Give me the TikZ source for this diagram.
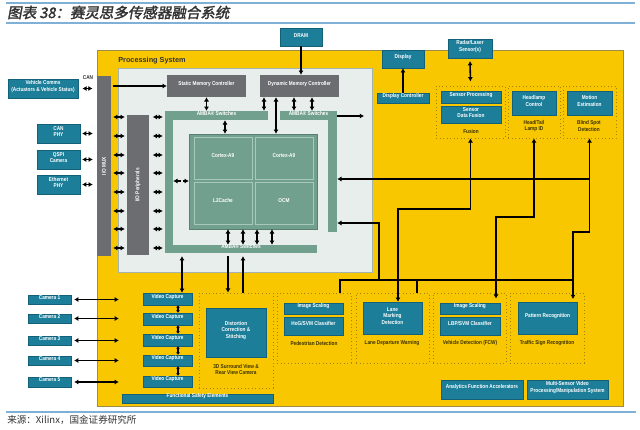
\documentclass[tikz,border=0pt]{standalone}
\usepackage{fontspec}
\setmainfont{Liberation Sans}
\newfontfamily\dfont{Liberation Sans}[FakeStretch=0.84]
\newfontfamily\cjkfont{Noto Sans CJK SC}[FakeSlant=0.18,FakeBold=2]
\newfontfamily\srcfont{Noto Sans CJK SC}
\usetikzlibrary{arrows.meta,fit}

\definecolor{yell}{HTML}{F8C700}
\definecolor{yelld}{HTML}{A08C45}
\definecolor{teal0}{HTML}{1C7E99}
\definecolor{teal1}{HTML}{136178}
\definecolor{grayblk}{HTML}{6C6D70}
\definecolor{psbg}{HTML}{E8EEEC}
\definecolor{psln}{HTML}{A5B3AE}
\definecolor{amba}{HTML}{72A08F}
\definecolor{cellln}{HTML}{A9C8BC}
\definecolor{frmc}{HTML}{A3850C}
\definecolor{notec}{HTML}{3B3200}
\definecolor{tlin}{HTML}{7FB0D6}
\definecolor{titc}{HTML}{333333}

\tikzset{
  lbl/.style={font=\dfont\bfseries\fontsize{4}{4.7}\selectfont, align=center},
  tbox/.style={lbl, fill=teal0, draw=teal1, line width=0.3pt, text=white, inner sep=0pt},
  gbox/.style={lbl, fill=grayblk, text=white, inner sep=0pt},
  abar/.style={lbl, fill=amba, text=white, inner sep=0pt},
  cell/.style={lbl, fill=amba, draw=cellln, line width=0.6pt, text=white, inner sep=0pt},
  frm/.style={draw=frmc, dotted, line width=0.5pt, inner sep=0pt},
  note/.style={lbl, text=notec},
  dbl/.style={arrows={Latex[length=3pt,width=3.6pt]-Latex[length=3pt,width=3.6pt]}, line width=1.1pt},
  sdbl/.style={arrows={Latex[length=1.8pt,width=3pt]-Latex[length=1.8pt,width=3pt]}, line width=1.1pt},
  sgl/.style={-{Latex[length=3pt,width=3.6pt]}, line width=1.1pt},
  wire/.style={line width=1.1pt},
  tline/.style={draw=tlin, line width=0.8pt}
}

\begin{document}
\begin{tikzpicture}[x=0.025cm, y=-0.025cm]
  \useasboundingbox (0,0) rectangle (640,429);
  \fill[white] (0,0) rectangle (640,429);

  % title and source
  \draw[tline] (6,3) -- (635,3);
  \draw[tline] (6,23) -- (635,23);
  \draw[tline] (6,412) -- (636,412);
  \node[anchor=west, inner sep=0pt, text=titc, font=\cjkfont\fontsize{10.3}{12}\selectfont] (title) at (7,12.5) {图表 38：赛灵思多传感器融合系统};
  \node[anchor=west, inner sep=0pt, text=titc, font=\srcfont\fontsize{6.8}{8}\selectfont] (src) at (7,420) {来源：Xilinx，国金证券研究所};

  % programmable logic and processing system
  \node[fill=yell, draw=yelld, line width=0.5pt, inner sep=0pt, fit={(97,50) (623,406)}] (pl) {};
  \node[fill=psbg, draw=psln, line width=0.5pt, inner sep=0pt, fit={(118,68) (372,272)}] (ps) {};
  \node[anchor=west, inner sep=0pt, text=titc, font=\bfseries\fontsize{5.2}{6}\selectfont] (pslbl) at (118,60.5) {Processing System};

  % outside blocks
  \node[tbox, fit={(280,28) (322,46)}] (dram) {DRAM};
  \node[tbox, fit={(8,79) (78,98)}] (vcomm) {Vehicle Comms\\(Actuators \& Vehicle Status)};
  \node[lbl, text=titc, inner sep=0pt] (canlbl) at (88,78) {CAN};
  \node[tbox, fit={(37,124) (80,143)}] (canphy) {CAN\\PHY};
  \node[tbox, fit={(37,150) (80,169)}] (qspi) {QSPI\\Camera};
  \node[tbox, fit={(37,175) (80,194)}] (eth) {Ethernet\\PHY};
  \node[tbox, fit={(382,50) (424,68)}] (disp) {Display};
  \node[tbox, fit={(448,39) (492,58)}] (radar) {Radar/Laser\\Sensor(s)};

  % I/O and memory
  \node[gbox, fit={(97,76) (111,256)}, label={[lbl, text=white, rotate=90]center:I/O MUX}] (iomux) {};
  \node[gbox, fit={(127,115) (149,255)}, label={[lbl, text=white, rotate=90]center:I/O Peripherals}] (iop) {};
  \node[gbox, fit={(167,75) (246,97)}] (smc) {Static Memory Controller};
  \node[gbox, fit={(260,75) (339,97)}] (dmc) {Dynamic Memory Controller};

  % AMBA switches
  \node[abar, fit={(165,111) (173,253)}] (ambaLl) {};
  \node[abar, fit={(165,111) (268,120)}] (ambaLt) {AMBA® Switches};
  \node[abar, fit={(165,245) (317,253)}] (ambaLb) {AMBA® Switches};
  \node[abar, fit={(328,111) (337,232)}] (ambaRr) {};
  \node[abar, fit={(280,111) (337,120)}] (ambaRt) {AMBA® Switches};

  % CPU
  \node[fill=amba, draw=amba!80!black, line width=0.4pt, inner sep=0pt, fit={(189,134) (317,229)}] (cpu) {};
  \node[cell, fit={(194,137) (252,179)}] (core0) {Cortex-A9};
  \node[cell, fit={(255,137) (313,179)}] (core1) {Cortex-A9};
  \node[cell, fit={(194,182) (252,224)}] (l2c) {L2Cache};
  \node[cell, fit={(255,182) (313,224)}] (ocm) {OCM};

  % upper fusion blocks
  \node[tbox, fit={(377,93) (429,103)}] (dctl) {Display Controller};
  \node[frm, fit={(436,86) (505,138)}] (fusF) {};
  \node[frm, fit={(508,86) (560,138)}] (fusH) {};
  \node[frm, fit={(563,86) (616,138)}] (fusB) {};
  \node[tbox, fit={(441,91) (501,103)}] (sproc) {Sensor Processing};
  \node[tbox, fit={(441,106) (501,123)}] (sdf) {Sensor\\Data Fusion};
  \node[tbox, fit={(512,91) (556,115)}] (hlc) {Headlamp\\Control};
  \node[tbox, fit={(567,91) (612,115)}] (mot) {Motion\\Estimation};
  \node[note] (fuslbl) at (471,131) {Fusion};
  \node[note] (htlbl) at (534,126) {Head/Tail\\Lamp ID};
  \node[note] (bslbl) at (589,126) {Blind Spot\\Detection};

  % cameras and video capture
  \foreach \i/\ya/\yb in {1/295/304, 2/314/323, 3/336/345, 4/356/365, 5/377/387}
    \node[tbox, fit={(28,\ya) (71,\yb)}] (cam\i) {Camera \i};
  \foreach \i/\ya/\yb in {1/293/305, 2/313/325, 3/334/346, 4/355/366, 5/376/387}
    \node[tbox, fit={(143,\ya) (192,\yb)}] (vc\i) {Video Capture};
  \node[tbox, fit={(122,394) (273,403)}] (fse) {Functional Safety Elements};

  % lower function blocks
  \node[frm, fit={(199,293) (273,388)}] (sv) {};
  \node[frm, fit={(277,293) (351,363)}] (pdf) {};
  \node[frm, fit={(356,293) (429,363)}] (ldf) {};
  \node[frm, fit={(433,293) (506,363)}] (vdf) {};
  \node[frm, fit={(510,293) (584,363)}] (tsf) {};
  \node[tbox, fit={(206,308) (266,357)}] (dcs) {Distortion\\Correction \&\\Stitching};
  \node[tbox, fit={(284,303) (343,314)}] (isp) {Image Scaling};
  \node[tbox, fit={(284,317) (343,335)}] (hog) {HoG/SVM Classifier};
  \node[tbox, fit={(363,302) (422,334)}] (lmd) {Lane\\Marking\\Detection};
  \node[tbox, fit={(440,303) (500,314)}] (isv) {Image Scaling};
  \node[tbox, fit={(440,317) (500,335)}] (lbp) {LBP/SVM Classifier};
  \node[tbox, fit={(518,302) (577,334)}] (prc) {Pattern Recognition};
  \node[note] (svlbl) at (236,369.5) {3D Surround View \&\\Rear View Camera};
  \node[note] (pdlbl) at (314,343) {Pedestrian Detection};
  \node[note] (ldlbl) at (392,343) {Lane Departure Warning};
  \node[note] (vdlbl) at (470,343) {Vehicle Detection (FCW)};
  \node[note] (tslbl) at (547,343) {Traffic Sign Recognition};
  \node[tbox, fit={(441,380) (523,399)}] (afa) {Analytics Function Accelerators};
  \node[tbox, fit={(527,380) (608,399)}] (msv) {Multi-Sensor Video\\Processing/Manipulation System};

  % external links
  \draw[sgl] (dram.south) -- (dram.south |- dmc.north);
  \draw[dbl, shorten <=3pt, shorten >=3pt] (vcomm.east) -- (vcomm.east -| iomux.west);
  \foreach \n in {canphy, qspi, eth}
    \draw[dbl, shorten <=1.4pt, shorten >=2.8pt] (\n.east) -- (\n.east -| iomux.west);
  \draw[sgl, shorten <=1.4pt] (iomux.east |- smc.west) -- (smc.west);
  \foreach \y in {117,136,155,173,192,211,229,248} {
    \draw[dbl, shorten <=1.4pt, shorten >=1.4pt] (iomux.east |- 0,\y) -- (iop.west |- 0,\y);
    \draw[dbl, shorten <=2.5pt, shorten >=1.4pt] (iop.east |- 0,\y) -- (ambaLl.west |- 0,\y);
  }
  \draw[sgl] (dctl.north) -- (disp.south);
  \draw[dbl, shorten <=2pt, shorten >=3pt] (radar.south) -- (fusF.north);

  % memory and switches
  \draw[dbl] (smc.south) -- (smc.south |- ambaLt.north);
  \draw[dbl] (dmc.south -| 264,0) -- (ambaLt.north -| 264,0);
  \draw[dbl] (dmc.south -| 276,0) -- (cpu.north -| 276,0);
  \foreach \x in {294,312}
    \draw[dbl] (dmc.south -| \x,0) -- (ambaRt.north -| \x,0);
  \draw[dbl] (ambaLt.south -| 225,0) -- (cpu.north -| 225,0);
  \draw[dbl, dash pattern=on 3pt off 1.2pt] (ambaLl.east |- 0,181) -- (cpu.west |- 0,181);
  \foreach \x in {228,243,257,272}
    \draw[dbl] (cpu.south -| \x,0) -- (ambaLb.north -| \x,0);
  \coordinate (psout) at (364,116);
  \draw[sgl] (ambaRr.east |- psout) -- (psout);

  % fusion buses
  \coordinate (k1) at (398,209);
  \coordinate (k2) at (496,217);
  \coordinate (k3) at (573,232);
  \coordinate (j2m) at (379,280);
  \coordinate (j2r) at (573,280);
  \draw[sgl] (fusB.south |- 0,179) -- (ambaRr.east |- 0,179);
  \draw[dbl] (fusF.south) |- (k1) -- (lmd.north -| k1);
  \draw[dbl, shorten >=3pt] (fusH.south) |- (k2) -- (isv.north -| k2);
  \draw[dbl, shorten >=2pt] (fusB.south) |- (k3) -- (prc.north -| k3);
  \draw[wire] (pdf.north -| 340,0) |- (j2r);
  \draw[wire] (ldf.north -| 417,0) -- (j2r -| 417,0);
  \draw[sgl] (j2m) |- (ambaRr.east |- 0,223);

  % camera path
  \foreach \i in {1,...,5}
    \draw[dbl, shorten <=2.1pt, shorten >=17pt] (cam\i.east) -- (cam\i.east -| vc\i.west);
  \foreach \i/\j in {1/2, 2/3, 3/4, 4/5}
    \draw[sdbl] (vc\i.south -| 178,0) -- (vc\j.north -| 178,0);
  \draw[dbl, shorten <=2pt] (ambaLb.south -| 182,0) -- (vc1.north -| 182,0);
  \draw[sgl, shorten <=2pt] (ambaLb.south -| 228,0) -- (sv.north -| 228,0);
  \draw[sgl, shorten >=2pt] (sv.north -| 243,0) -- (ambaLb.south -| 243,0);
\end{tikzpicture}
\end{document}
